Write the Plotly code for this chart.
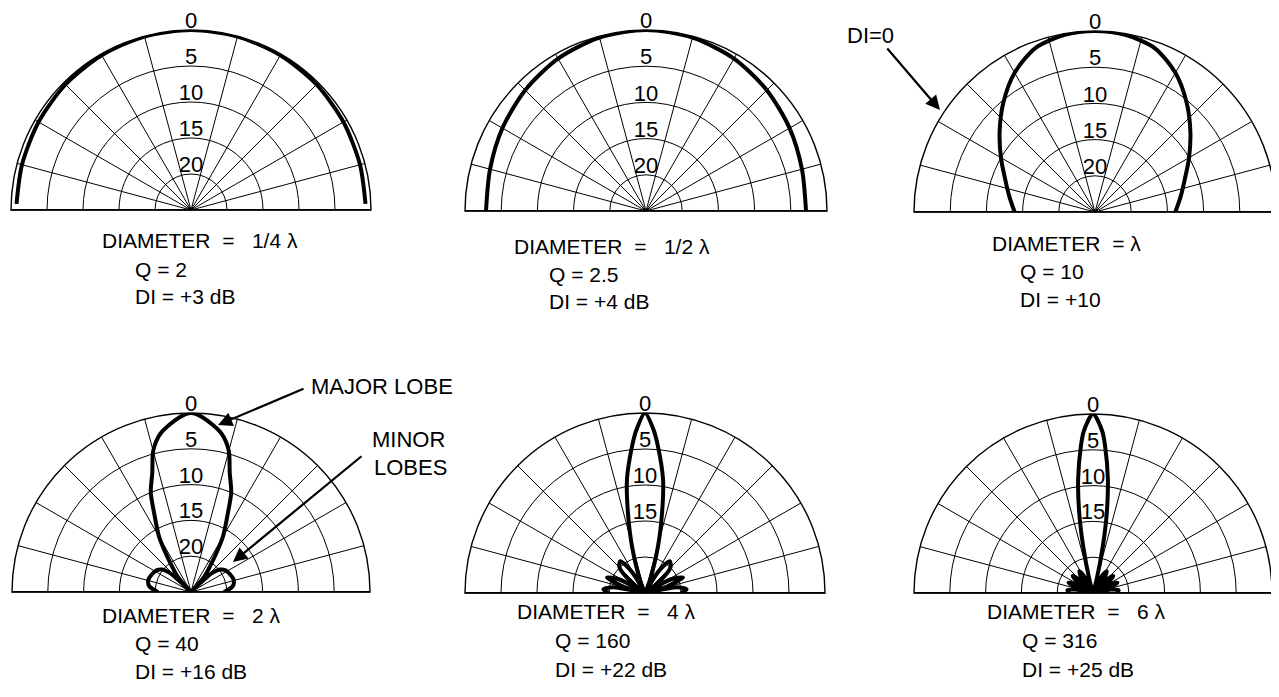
import plotly.graph_objects as go

W, H = 1279, 697
OFF = 8  # page body margin of the exported html

# levels in dB below the on-axis maximum.
# angles are measured from the baseline (deg), left half 0..90; the right half is the mirror image
ang_q = [2, 15, 30, 45, 60, 75, 90]
db_q = [0.75, 0.7, 0.55, 0.35, 0.18, 0.05, 0.0]

ang_h = [0, 15, 30, 45, 60, 75, 90]
db_h = [2.9, 2.7, 2.1, 1.4, 0.7, 0.2, 0.0]

ang_1 = [0, 10, 20, 30, 40, 50, 60, 70, 80, 90]
db_1 = [13.9, 13.0, 11.8, 10.0, 7.8, 5.3, 2.8, 0.9, 0.2, 0.0]

ang_2 = [0, 8, 16, 24, 32, 38, 42, 44, 46, 49, 56, 60, 65, 68, 72, 75, 79, 86, 90]
db_2 = [20.4, 19.1, 18.8, 19.0, 19.3, 19.9, 21.0, 25, 25, 22.2, 19.2, 16.1,
        12.8, 10.0, 7.5, 4.6, 2.5, 0.6, 0.0]

ang_4 = [0, 5, 10, 13, 16, 22, 28, 33, 38, 45, 52, 58, 63, 67, 69, 74.5, 78, 81, 85, 87, 90]
db_4 = [20.0, 19.2, 20.5, 25, 22.0, 19.3, 21.0, 25, 22.5, 20.0, 19.4, 21.5, 25, 25,
        23.1, 18.2, 13.6, 9.0, 4.5, 2.3, 0.0]

ang_6 = [0, 6, 11, 14, 18, 23, 28, 31, 35, 40, 45, 49, 53, 58, 63, 67, 73, 75, 78.2,
         80.3, 82.6, 85.3, 86.8, 90]
db_6 = [21.7, 21.4, 22.5, 25, 22.5, 21.3, 22.5, 25, 22.5, 21.3, 22.5, 25, 22.5, 21.4,
        22.5, 25, 25, 23.1, 18.2, 13.5, 8.9, 4.4, 2.3, 0.0]

ring_db = [0, 5, 10, 15, 20]
spokes = [0, 15, 30, 45, 60, 75, 105, 120, 135, 150, 165, 180]

NB = "\u00a0"
EQ = "DIAMETER" + NB * 2 + "=" + NB * 3
captions = [
    [EQ + "1/4 \u03bb", "Q = 2", "DI = +3 dB"],
    [EQ + "1/2 \u03bb", "Q = 2.5", "DI = +4 dB"],
    ["DIAMETER" + NB * 2 + "= \u03bb", "Q = 10", "DI = +10"],
    [EQ + "2 \u03bb", "Q = 40", "DI = +16 dB"],
    [EQ + "4 \u03bb", "Q = 160", "DI = +22 dB"],
    [EQ + "6 \u03bb", "Q = 316", "DI = +25 dB"],
]

# panel centre (px) and radius
panels = [(191, 210, 180), (646, 211, 181), (1095, 212, 181),
          (191, 592, 179), (645, 593, 180), (1093, 593, 179)]
patterns = [(ang_q, db_q), (ang_h, db_h), (ang_1, db_1),
            (ang_2, db_2), (ang_4, db_4), (ang_6, db_6)]
n_labels = [5, 5, 5, 5, 4, 4]
# caption positions: left x of each line, y of each line
cap_pos = [
    [(100, 241), (133, 269), (133, 297)],
    [(512, 246), (547, 274), (547, 301)],
    [(990, 243), (1018, 271), (1018, 299)],
    [(100, 615), (133, 643), (133, 671)],
    [(515, 611), (553, 640), (553, 669)],
    [(985, 611), (1020, 640), (1020, 669)],
]

# callout texts: text, left x, centre y
callout_text = [("DI=0", 845, 36), ("MAJOR LOBE", 309, 386),
                ("MINOR", 370, 440), ("LOBES", 372, 467)]
# callout arrows: tail, head
callout_arrows = [((886, 47), (940, 110)),
                  ((305, 388), (218, 425)),
                  ((363, 455), (233, 562))]

FONT = "Liberation Sans, Arial, Helvetica, sans-serif"


def px(x):
    return (x - OFF) / W


def py(y):
    return 1 - (y - OFF) / H


fig = go.Figure()
layout = dict(width=W, height=H, margin=dict(l=0, r=0, t=0, b=0),
              paper_bgcolor="white", plot_bgcolor="white", showlegend=False)
annotations = []

for i, ((cx, cy, R), (ang, db)) in enumerate(zip(panels, patterns)):
    sub = "polar" if i == 0 else "polar%d" % (i + 1)
    layout[sub] = dict(
        domain=dict(x=[px(cx - R), px(cx + R)], y=[py(cy), py(cy - R)]),
        sector=[0, 180],
        bgcolor="white",
        radialaxis=dict(range=[0, 25], tickvals=[25 - d for d in ring_db[1:]],
                        showticklabels=False, ticks="", showline=False,
                        showgrid=True, gridcolor="black", gridwidth=1.3),
        angularaxis=dict(tickmode="array", tickvals=spokes, showticklabels=False,
                         ticks="", showline=True, linecolor="black", linewidth=1.4,
                         showgrid=True, gridcolor="black", gridwidth=1.3),
    )
    # heavier baseline
    fig.add_trace(go.Scatterpolar(r=[25, 0, 25], theta=[0, 0, 180], mode="lines", subplot=sub,
                                  line=dict(color="black", width=2), cliponaxis=False,
                                  hoverinfo="skip"))
    th = list(ang) + [180 - a for a in reversed(ang[:-1])]
    lv = list(db) + list(reversed(db[:-1]))
    r = [max(0.0, 25 - v) for v in lv]
    fig.add_trace(go.Scatterpolar(r=r, theta=th, mode="lines", subplot=sub,
                                  line=dict(color="black", width=4, shape="spline", smoothing=0.8),
                                  cliponaxis=False, hoverinfo="skip"))
    k = n_labels[i]
    fig.add_trace(go.Scatterpolar(r=[25 - d - 0.5 for d in ring_db[:k]], theta=[90] * k,
                                  text=[str(d) for d in ring_db[:k]], mode="text",
                                  textposition="top center", subplot=sub, cliponaxis=False,
                                  textfont=dict(family=FONT, size=22, color="black"),
                                  hoverinfo="skip"))
    for txt, (x, y) in zip(captions[i], cap_pos[i]):
        annotations.append(dict(x=px(x), y=py(y), xref="paper", yref="paper",
                                text=txt, showarrow=False, xanchor="left", yanchor="middle",
                                font=dict(family=FONT, size=21, color="black")))

for txt, x, y in callout_text:
    annotations.append(dict(x=px(x), y=py(y), xref="paper", yref="paper", text=txt,
                            showarrow=False, xanchor="left", yanchor="middle",
                            font=dict(family=FONT, size=22, color="black")))
for (tx, ty), (hx, hy) in callout_arrows:
    annotations.append(dict(x=px(hx), y=py(hy), xref="paper", yref="paper",
                            ax=tx - hx, ay=ty - hy, text="", showarrow=True,
                            arrowhead=2, arrowsize=1.3, arrowwidth=2.2, arrowcolor="black"))

layout["annotations"] = annotations
fig.update_layout(**layout)
fig.write_html("out.html")
